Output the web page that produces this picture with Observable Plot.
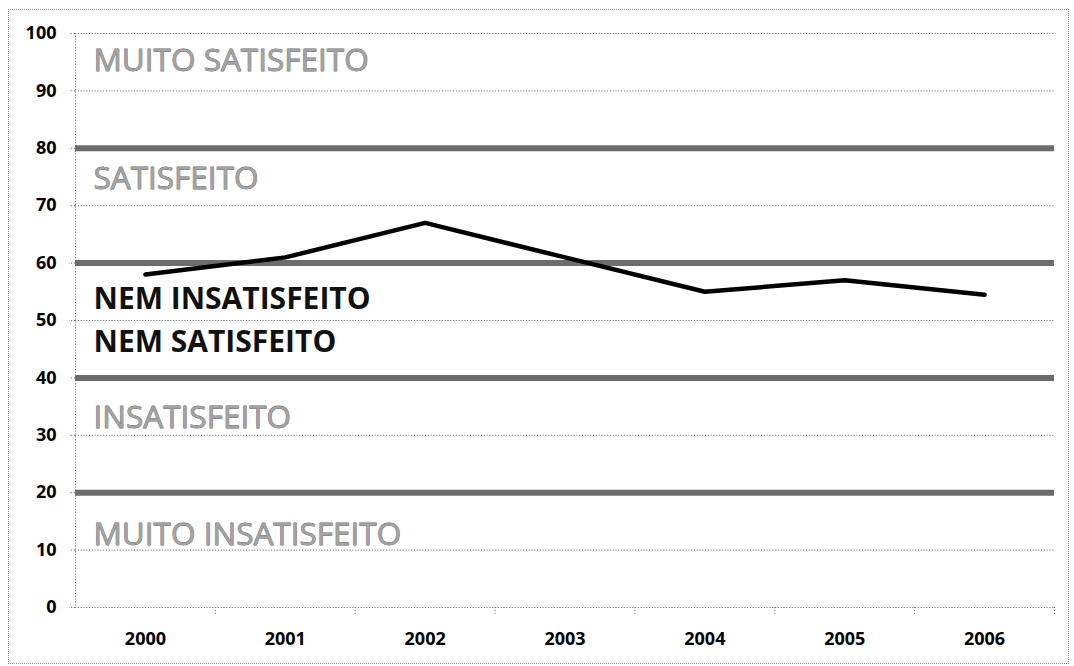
<!DOCTYPE html>
<html><head><meta charset="utf-8">
<script src="https://cdn.jsdelivr.net/npm/d3@7"></script>
<script src="https://cdn.jsdelivr.net/npm/@observablehq/plot@0.6"></script>
<style>
body{margin:0;background:#fff;}
#wrap{position:relative;width:1074px;height:666px;}
#border{position:absolute;left:8px;top:9px;width:1061px;height:655px;border:1px dotted #8a8a8a;box-sizing:border-box;pointer-events:none}
</style></head><body>
<div id="wrap"><div id="border"></div></div>
<script>
const years = [2000, 2001, 2002, 2003, 2004, 2005, 2006];
const values = [58, 61, 67, 61, 55, 57, 54.5];
const boundaries = [20, 40, 60, 80];
const yTicks = [0, 10, 20, 30, 40, 50, 60, 70, 80, 90, 100];
const bandLabels = ["MUITO SATISFEITO", "SATISFEITO", "NEM INSATISFEITO", "NEM SATISFEITO", "INSATISFEITO", "MUITO INSATISFEITO"];
const bandLabelValues = [95.2, 74.7, 53.7, 46.2, 33, 12.7];
const bandLabelDark = [false, false, true, true, false, false];

const rows = years.map((year, i) => ({year, value: values[i]}));
const labelRows = bandLabels.map((label, i) => ({label, y: bandLabelValues[i], dark: bandLabelDark[i]}));
const bandEdges = years.map(d => d + 0.5);

const chart = Plot.plot({
  width: 1074,
  height: 666,
  marginLeft: 75,
  marginRight: 20,
  marginTop: 33,
  marginBottom: 59,
  style: {fontFamily: "'Open Sans', sans-serif", background: "transparent", color: "#000"},
  x: {type: "linear", domain: [years[0] - 0.5, years[years.length - 1] + 0.5]},
  y: {domain: [0, 100]},
  marks: [
    Plot.ruleY(yTicks, {stroke: "#777", strokeWidth: 1, strokeDasharray: "1.2,1.6"}),
    Plot.ruleX([years[0] - 0.5], {stroke: "#777", strokeWidth: 1, strokeDasharray: "1.2,1.6"}),
    Plot.axisY(yTicks, {tickSize: 6, tickPadding: 13, fontSize: 18, fontWeight: "bold", stroke: "#777", strokeDasharray: "1.2,1.6", tickFormat: d => String(d), label: null}),
    Plot.axisX(bandEdges, {tickSize: 7, stroke: "#777", strokeDasharray: "1.2,1.6", text: null, label: null}),
    Plot.axisX(years, {tickSize: 0, tickPadding: 25, fontSize: 18, fontWeight: "bold", tickFormat: d => String(d), label: null}),
    Plot.ruleY(boundaries, {stroke: "#6c6c6c", strokeWidth: 6}),
    Plot.text(labelRows.filter(d => !d.dark), {y: "y", text: "label", frameAnchor: "left", dx: 18, textAnchor: "start", fontSize: 31.5, fill: "#a2a2a2", stroke: "#6a6a6a", strokeWidth: 0.8}),
    Plot.text(labelRows.filter(d => d.dark), {y: "y", text: "label", frameAnchor: "left", dx: 18, textAnchor: "start", fontSize: 30, fontWeight: "bold", fill: "#111"}),
    Plot.line(rows, {x: "year", y: "value", stroke: "#000", strokeWidth: 4.5, strokeLinejoin: "miter"})
  ]
});
document.getElementById("wrap").appendChild(chart);
chart.style.position = "absolute";
chart.style.left = "0";
chart.style.top = "0";
</script>
</body></html>
